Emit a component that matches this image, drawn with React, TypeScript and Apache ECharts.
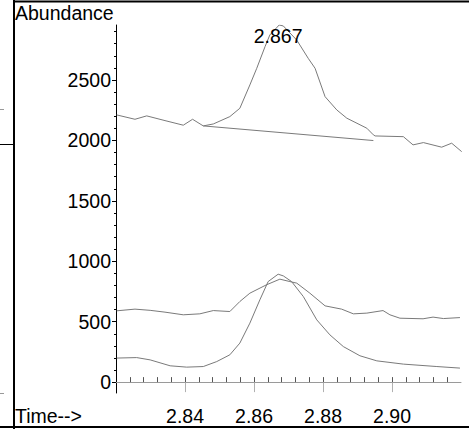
import React, { useEffect, useRef } from "react";
import * as echarts from "echarts";

// Time (min) / abundance pairs
const ticTop: [number, number][] = [
  [2.8202, 2211], [2.8255, 2175], [2.8289, 2203], [2.8342, 2164], [2.8395, 2126],
  [2.8422, 2175], [2.8453, 2120], [2.8482, 2136], [2.853, 2197], [2.8559, 2266],
  [2.8588, 2459], [2.8608, 2597], [2.8632, 2776], [2.8646, 2873], [2.8673, 2955],
  [2.8685, 2947], [2.8724, 2830], [2.8757, 2680], [2.8777, 2597], [2.8806, 2362],
  [2.884, 2252], [2.8869, 2184], [2.8927, 2101], [2.8946, 2046], [2.8951, 2037],
  [2.9033, 2031], [2.9061, 1963], [2.9091, 1982], [2.9144, 1944], [2.9173, 1977],
  [2.9202, 1907],
];
const peakBaseline: [number, number][] = [
  [2.8453, 2120], [2.8946, 1999],
];
const ionMid: [number, number][] = [
  [2.8202, 590], [2.8255, 604], [2.8299, 594], [2.8342, 579], [2.8395, 557],
  [2.8443, 565], [2.8482, 592], [2.853, 584], [2.8559, 667], [2.8588, 736],
  [2.8636, 805], [2.8675, 852], [2.8704, 832], [2.8724, 819], [2.8762, 736],
  [2.8806, 631], [2.8854, 604], [2.8888, 565], [2.8927, 571], [2.8974, 592],
  [2.8994, 557], [2.9023, 529], [2.909, 524], [2.9119, 538], [2.9149, 526],
  [2.9197, 534],
];
const ionLow: [number, number][] = [
  [2.8202, 199], [2.826, 203], [2.8299, 184], [2.8357, 135], [2.8405, 124],
  [2.8453, 129], [2.8492, 170], [2.853, 226], [2.8559, 323], [2.8588, 488],
  [2.8617, 681], [2.8641, 832], [2.867, 893], [2.8685, 879], [2.8709, 832],
  [2.8743, 708], [2.8782, 515], [2.882, 391], [2.8859, 294], [2.8907, 218],
  [2.8956, 176], [2.9033, 149], [2.913, 129], [2.9197, 116],
];
const peakLabel = "2.867";
const peakApex: [number, number] = [2.867, 2955];

const xLabelTicks = [2.84, 2.86, 2.88, 2.9];
const xMinorTicks = [
  2.824, 2.828, 2.832, 2.836, 2.84, 2.844, 2.848, 2.852, 2.856, 2.86, 2.864,
  2.868, 2.872, 2.876, 2.88, 2.884, 2.888, 2.892, 2.896, 2.9, 2.904, 2.908,
  2.912, 2.916,
];
const yLabelTicks = [0, 500, 1000, 1500, 2000, 2500];
const yMinorTicks = [
  100, 200, 300, 400, 600, 700, 800, 900, 1100, 1200, 1300, 1400, 1600, 1700,
  1800, 1900, 2100, 2200, 2300, 2400, 2600, 2700, 2800, 2900,
];

const FONT = "'Liberation Sans', Arial, sans-serif";
const FS = 19.5;

export default function App() {
  const ref = useRef<HTMLDivElement>(null);
  useEffect(() => {
    document.body.style.margin = "0";
    if (!ref.current) return;
    const chart = echarts.init(ref.current, undefined, { renderer: "svg" });
    const xBase = { type: "value" as const, min: 2.82, max: 2.92, gridIndex: 0, splitLine: { show: false } };
    const yBase = { type: "value" as const, min: -90, max: 2955, gridIndex: 0, splitLine: { show: false } };
    const lineStyle = { color: "#7a7a7a", width: 1 };
    chart.setOption({
      animation: false,
      backgroundColor: "#ffffff",
      grid: { left: 116, right: 8, top: 25, bottom: 36 },
      xAxis: [
        {
          ...xBase,
          axisLine: { show: true, lineStyle: { color: "#9a9a9a", width: 1 } },
          axisTick: { show: true, customValues: xLabelTicks, length: 10, lineStyle: { color: "#b0b0b0" } },
          axisLabel: {
            show: true,
            customValues: xLabelTicks,
            formatter: (v: number) => v.toFixed(2),
            color: "#000",
            fontFamily: FONT,
            fontSize: FS,
            margin: 13,
          },
        },
        {
          ...xBase,
          axisLine: { show: false },
          axisTick: { show: true, customValues: xMinorTicks, length: 5, lineStyle: { color: "#555" } },
          axisLabel: { show: false },
        },
      ],
      yAxis: [
        {
          ...yBase,
          axisLine: { show: true, lineStyle: { color: "#000", width: 1 } },
          axisTick: { show: true, customValues: yLabelTicks, length: 4, lineStyle: { color: "#000" } },
          axisLabel: {
            show: true,
            customValues: yLabelTicks,
            formatter: (v: number) => String(v),
            color: "#000",
            fontFamily: FONT,
            fontSize: FS,
            margin: 5,
          },
        },
        {
          ...yBase,
          position: "left",
          axisLine: { show: false },
          axisTick: { show: true, customValues: yMinorTicks, length: 2, lineStyle: { color: "#000" } },
          axisLabel: { show: false },
        },
      ],
      series: [
        {
          type: "line",
          data: ticTop,
          symbol: "none",
          lineStyle,
          markPoint: {
            symbol: "circle",
            symbolSize: 0,
            data: [{ coord: peakApex }],
            label: {
              show: true,
              formatter: peakLabel,
              position: "bottom",
              distance: 1,
              color: "#000",
              fontFamily: FONT,
              fontSize: FS,
            },
          },
        },
        { type: "line", data: peakBaseline, symbol: "none", lineStyle },
        { type: "line", data: ionMid, symbol: "none", lineStyle },
        { type: "line", data: ionLow, symbol: "none", lineStyle },
      ],
      graphic: [
        { type: "line", shape: { x1: 14, y1: 0, x2: 14, y2: 429 }, style: { stroke: "#000", lineWidth: 2 } },
        { type: "line", shape: { x1: 14, y1: 1.5, x2: 469, y2: 1.5 }, style: { stroke: "#000", lineWidth: 2 } },
        { type: "line", shape: { x1: 0, y1: 427, x2: 469, y2: 427 }, style: { stroke: "#000", lineWidth: 2 } },
        { type: "line", shape: { x1: 0, y1: 144.5, x2: 14, y2: 144.5 }, style: { stroke: "#000", lineWidth: 1 } },
        { type: "line", shape: { x1: 0, y1: 109.5, x2: 4, y2: 109.5 }, style: { stroke: "#999", lineWidth: 1 } },
        { type: "line", shape: { x1: 0, y1: 393.5, x2: 4, y2: 393.5 }, style: { stroke: "#999", lineWidth: 1 } },
        {
          type: "text",
          left: 15,
          top: 3,
          style: { text: "Abundance", fill: "#000", font: `${FS}px ${FONT}` },
        },
        {
          type: "text",
          left: 15,
          top: 406,
          style: { text: "Time-->", fill: "#000", font: `${FS}px ${FONT}` },
        },
      ],
    });
    return () => chart.dispose();
  }, []);
  return <div ref={ref} style={{ width: 469, height: 429 }} />;
}
